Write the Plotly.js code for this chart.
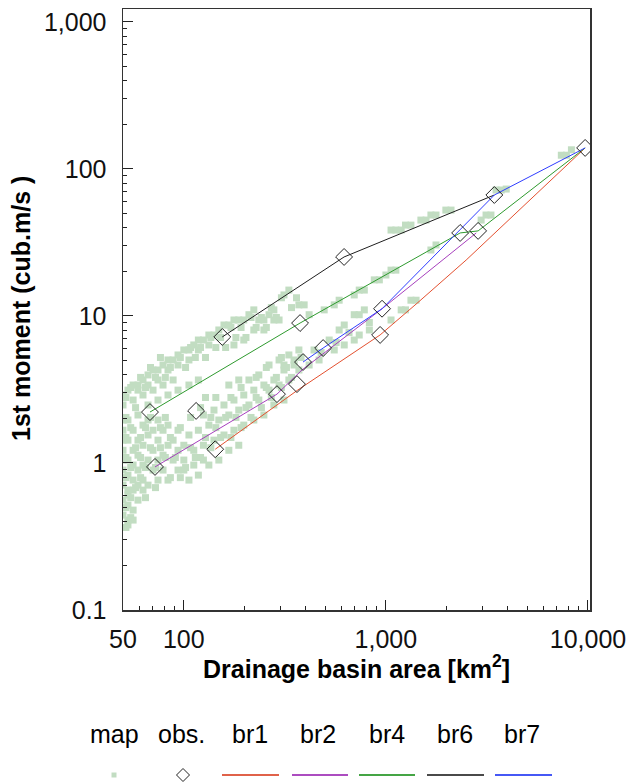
<!DOCTYPE html>
<html>
<head>
<meta charset="utf-8">
<script src="https://cdn.plot.ly/plotly-3.0.1.min.js"></script>
<style>html,body{margin:0;padding:0;background:#fff;}#chart{width:632px;height:782px;}</style>
</head>
<body>
<div id="chart"></div>
<script>
// ---- map points (drainage area km2, 1st moment m3/s) ----
const mapArea = [
50,52.9,52.9,56.1,50,52.9,56.1,59.3,50,56.1,59.3,62.8,52.9,59.3,62.8,66.5,50,56.1,62.8,70.4,74.5,
52.9,59.3,66.5,74.5,78.9,83.5,50,56.1,62.8,70.4,78.9,88.5,93.6,52.9,59.3,66.5,74.5,83.5,93.6,100,
50,56.1,62.8,70.4,78.9,88.5,100,52.9,59.3,66.5,74.5,83.5,93.6,106,50,56.1,62.8,70.4,78.9,88.5,
66.5,74.5,83.5,93.6,106,118,50,50,50,50,52.9,56.1,52.9,
100,112,125,106,118,133,149,167,187,112,125,141,158,177,198,222,249,279,313,118,133,149,167,187,
210,235,264,296,331,371,125,141,158,177,198,222,249,279,313,351,210,235,264,296,331,371,167,187,
52.9,56.1,59.3,62.8,66.5,70.4,74.5,78.9,83.5,88.5,93.6,100,106,112,118,125,133,141,149,158,167,177,
187,198,210,222,235,249,264,279,296,313,331,371,394,133,118,106,93.6,83.5,74.5,66.5,59.3,279,198,177,222,249,
417,495,555,587,697,738,782,876,928,1000,1060,1120,1670,1770,
313,351,441,524,587,622,697,738,782,555,622,417,467,
697,738,828,1060,1190,1250,1330,1410,
1060,1120,1190,1250,1330,1490,1580,1670,1770,1980,2100,2960,3130,3310,3510,3720,3940,7380,7820,8280,
51.7,54.6,57.7,51.7,61.1,54.6,64.6,51.7,61.1,72.4,57.7,68.4,81.0,51.7,61.1,76.6,90.8,54.6,64.6,76.6,
85.8,102,114,51.7,57.7,68.4,81.0,96.1,108,128,144,64.6,72.4,85.8,96.1,54.6,51.7,
121,136,152,171,192,215,242,271,304,341,203,228,256,287,322,181,161,136,121,108,128,144,171,192,228,256,304,
51.7,54.6,61.1,68.4,76.6,85.8,96.1,108,121,136,152,171,192,215,242,271,304,64.6,72.4,81.0,102,114,128,144,
161,181,203,228,256,287,341,361,
380,478,567,657,828
];
const mapQ = [
0.442,0.409,0.517,0.478,0.559,0.605,0.654,0.559,0.707,0.765,0.707,0.654,0.827,0.895,0.765,0.707,0.895,0.968,0.968,0.895,0.765,
1.047,1.13,1.047,1.047,0.895,0.765,1.22,1.22,1.32,1.22,1.13,1.047,0.895,1.43,1.43,1.55,1.43,1.32,1.22,1.047,
1.67,1.67,1.81,1.67,1.67,1.43,1.32,1.96,2.12,1.96,1.96,1.81,1.67,1.55,2.48,2.68,2.90,3.13,3.39,3.67,
2.48,2.68,2.90,3.13,3.39,3.67,1.96,1.047,1.43,2.90,0.654,0.409,0.379,
0.895,0.968,1.047,0.765,0.827,0.968,1.047,1.22,1.32,1.22,1.32,1.43,1.55,1.67,1.81,1.96,2.12,2.48,2.68,1.67,1.81,1.96,2.12,2.29,
2.48,2.68,3.13,3.39,3.67,4.29,2.12,2.29,2.48,2.68,2.90,3.13,3.39,3.67,4.29,4.64,3.67,3.97,4.64,5.02,5.43,5.87,3.39,3.67,
3.13,3.39,3.39,3.67,3.97,4.29,4.29,4.64,5.02,5.02,5.43,5.87,5.87,6.35,6.86,6.86,7.42,7.42,8.03,8.68,8.68,9.39,
9.39,9.39,10.2,11.0,9.39,9.39,10.2,11.0,9.39,13.9,15.0,11.9,11.9,6.35,5.87,5.02,4.64,4.29,3.67,3.39,3.13,9.39,6.86,6.35,8.03,8.03,
10.2,11.0,11.9,12.8,13.9,15.0,15.0,17.6,17.6,19.0,20.5,20.5,28.1,30.4,
4.64,5.02,5.87,6.86,8.03,8.68,10.2,10.2,11.0,5.87,6.35,4.64,5.02,
6.86,7.42,8.03,9.39,11.0,11.0,12.8,12.8,
38.4,38.4,38.4,41.5,41.5,44.9,44.9,48.6,48.6,52.5,52.5,44.9,48.6,48.6,71.9,71.9,73,124,124,135,
0.497,0.581,0.680,0.795,0.795,0.931,0.931,1.09,1.09,0.931,1.27,1.27,1.09,1.49,1.49,1.27,1.09,1.74,1.74,1.74,
1.49,0.931,1.09,2.04,2.38,2.04,2.04,1.74,1.27,1.49,1.74,0.581,0.680,0.795,0.795,0.425,0.364,
1.09,1.27,1.49,1.49,1.74,2.04,2.38,2.79,3.26,3.82,2.38,2.79,3.26,3.82,4.46,2.04,2.04,2.04,2.38,2.04,2.79,2.79,2.79,3.26,3.82,4.46,5.22,
2.79,3.26,3.82,4.46,5.22,4.46,5.22,6.10,6.10,7.14,7.14,8.35,8.35,9.76,9.76,11.4,13.3,3.26,3.82,3.82,4.46,5.22,5.22,6.10,
6.10,7.14,7.14,8.35,8.35,9.76,11.4,13.3,
5.22,5.64,6.60,7.71,9.03
];

// ---- observations ----
const obsArea = [68,72,115,143,155,289,363,376,389,489,621,936,957,2330,2860,3440,9680];
const obsQ    = [2.22,0.94,2.26,1.24,7.2,2.94,3.44,8.95,4.86,6.05,25.2,7.43,11.2,36.7,37.9,66.5,139];

// ---- branches ----
const br1Area = [143,367,936,1426,2495,9680];
const br1Q    = [1.24,3.14,7.43,12.2,24.0,139];
const br2Area = [72,289,385,957,2800];
const br2Q    = [0.94,2.94,4.30,11.2,36.7];
const br4Area = [68,376,2330,2860,9680];
const br4Q    = [2.22,8.95,36.7,37.9,139];
const br6Area = [155,621,3440];
const br6Q    = [7.2,25.2,66.5];
const br7Area = [389,489,957,3440,9680];
const br7Q    = [4.86,6.05,11.2,66.5,139];

const xTickVals = [50,100,1000,10000];
const xTickText = ['50','100','1,000','10,000'];
const yTickVals = [0.1,1,10,100,1000];
const yTickText = ['0.1','1','10','100','1,000'];

const legendNames = ['map','obs.','br1','br2','br4','br6','br7'];
const colors = {br1:'#e4502f', br2:'#a63fbd', br4:'#2e9a2e', br6:'#1e1e1e', br7:'#2f3dff'};
const legendColors = {br1:'#e0624a', br2:'#ac4cc0', br4:'#45a545', br6:'#4a4a4a', br7:'#4658f5'};
const mapColor = 'rgb(194,221,194)';

function minorVals(from, to){
  const v=[];
  for(let d=from; d<to; d++){ for(let k=2;k<=9;k++){ v.push(k*Math.pow(10,d)); } }
  return v;
}

const FONT = 'Liberation Sans, Arial, sans-serif';

const traces = [
  {x:mapArea, y:mapQ, type:'scatter', mode:'markers', name:'map',
   marker:{symbol:'square', size:7, color:mapColor, line:{width:0}}, hoverinfo:'skip'},
  {x:br2Area, y:br2Q, type:'scatter', mode:'lines', name:'br2', line:{color:colors.br2, width:1}},
  {x:br1Area, y:br1Q, type:'scatter', mode:'lines', name:'br1', line:{color:colors.br1, width:1}},
  {x:br4Area, y:br4Q, type:'scatter', mode:'lines', name:'br4', line:{color:colors.br4, width:1}},
  {x:br6Area, y:br6Q, type:'scatter', mode:'lines', name:'br6', line:{color:colors.br6, width:1}},
  {x:br7Area, y:br7Q, type:'scatter', mode:'lines', name:'br7', line:{color:colors.br7, width:1}},
  {x:obsArea, y:obsQ, type:'scatter', mode:'markers', name:'obs.',
   marker:{symbol:'diamond-open', size:13, color:'#222', line:{width:1, color:'#222'}}}
];

// legend placement in paper coordinates
const L = 123, T = 9, W = 467, H = 601;
const px = v => (v - L)/W;
const py = v => (T + H - v)/H;

const labelX = [114,181,250,318,387,455,522];
const lineX = {br1:[222,279], br2:[292,348], br4:[359,415], br6:[427,484], br7:[495,552]};
const annotations = legendNames.map((n,i)=>({
  xref:'paper', yref:'paper', x:px(labelX[i]), y:py(734), text:n, showarrow:false,
  xanchor:'center', yanchor:'middle', font:{family:FONT, size:25, color:'#000'}
}));
annotations.push({
  xref:'paper', yref:'paper', x:px(356), y:py(667), showarrow:false, xanchor:'center', yanchor:'middle',
  text:'<b>Drainage basin area [km<sup>2</sup>]</b>', font:{family:FONT, size:25, color:'#000'}
});
annotations.push({
  xref:'paper', yref:'paper', x:px(21), y:py(309), showarrow:false, xanchor:'center', yanchor:'middle',
  textangle:-90, text:'<b>1st moment (cub.m/s )</b>', font:{family:FONT, size:25, color:'#000'}
});

const shapes = [];
['br1','br2','br4','br6','br7'].forEach(k=>{
  shapes.push({type:'line', xref:'paper', yref:'paper', x0:px(lineX[k][0]), x1:px(lineX[k][1]),
    y0:py(775), y1:py(775), line:{color:legendColors[k], width:2}});
});
shapes.push({type:'rect', xref:'paper', yref:'paper', x0:px(111.5), x1:px(116.5), y0:py(777.5), y1:py(772.5),
  fillcolor:mapColor, line:{width:0}});
shapes.push({type:'path', xref:'paper', yref:'paper',
  path:`M ${px(176.5)} ${py(775)} L ${px(183)} ${py(768.5)} L ${px(189.5)} ${py(775)} L ${px(183)} ${py(781.5)} Z`,
  line:{color:'#222', width:1}, fillcolor:'rgba(0,0,0,0)'});

const layout = {
  width:632, height:782,
  margin:{l:L, r:632-L-W, t:T, b:782-T-H, pad:0},
  paper_bgcolor:'#fff', plot_bgcolor:'#fff',
  showlegend:false,
  font:{family:FONT, size:25, color:'#000'},
  xaxis:{type:'log', range:[Math.log10(50), 4.01], tickmode:'array', tickvals:xTickVals, ticktext:xTickText,
    ticks:'inside', ticklen:10, tickwidth:1, tickcolor:'#222', ticklabelstandoff:6,
    showline:true, mirror:true, linecolor:'#333', linewidth:1.5, showgrid:false, zeroline:false,
    tickfont:{family:FONT, size:25, color:'#111'},
    minor:{tickmode:'array', tickvals:minorVals(1,4), ticks:'inside', ticklen:4, tickwidth:1, tickcolor:'#222', showgrid:false}},
  yaxis:{type:'log', range:[-1, 3.088], tickmode:'array', tickvals:yTickVals, ticktext:yTickText,
    ticks:'inside', ticklen:10, tickwidth:1, tickcolor:'#222', ticklabelstandoff:10,
    showline:true, mirror:true, linecolor:'#333', linewidth:1.5, showgrid:false, zeroline:false,
    tickfont:{family:FONT, size:25, color:'#111'},
    minor:{tickmode:'array', tickvals:minorVals(-1,3), ticks:'inside', ticklen:4, tickwidth:1, tickcolor:'#222', showgrid:false}},
  annotations, shapes
};

Plotly.newPlot('chart', traces, layout, {displayModeBar:false, staticPlot:true});
</script>
</body>
</html>
